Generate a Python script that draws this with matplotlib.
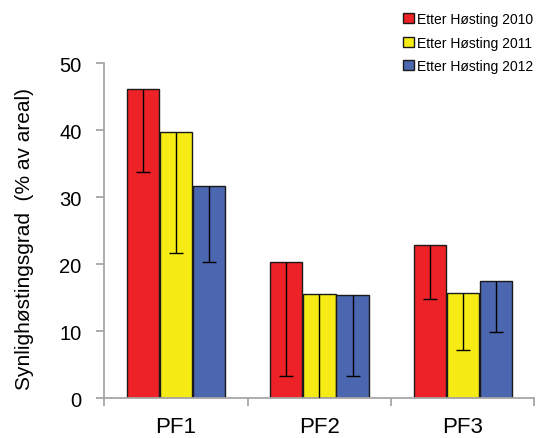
import numpy as np
import matplotlib
matplotlib.use('Agg')
import matplotlib.pyplot as plt
from matplotlib.ticker import FixedLocator

# data
sites = ['PF1', 'PF2', 'PF3']
years = ['Etter Høsting 2010', 'Etter Høsting 2011', 'Etter Høsting 2012']
colors = ['#ED2226', '#F6EB14', '#4A67AF']
values = [
    [46.1, 20.4, 22.9],   # 2010
    [39.7, 15.6, 15.7],   # 2011
    [31.6, 15.4, 17.5],   # 2012
]
# only the lower half of the error bars is drawn in the figure
err_low = [
    [12.3, 17.0, 8.1],
    [18.0, 16.5, 8.5],
    [11.3, 12.1, 7.6],
]

plt.rcParams['font.family'] = ['Liberation Sans', 'DejaVu Sans']

fig = plt.figure(figsize=(5.36, 4.39), dpi=100)
ax = fig.add_axes([0.1946, 0.0904, 0.8026, 0.7638])

x = np.arange(len(sites))
width = 0.225
step = 0.231
grey = '#A6A6A6'

for i, (yr, col) in enumerate(zip(years, colors)):
    pos = x + (i - 1) * step
    ax.bar(pos, values[i], width, color=col, edgecolor='#1a1a1a', linewidth=1.0,
           label=yr, zorder=2)
    eb = ax.errorbar(pos, values[i], yerr=[err_low[i], np.zeros(len(sites))],
                     fmt='none', ecolor='black', elinewidth=1.0, capsize=5,
                     capthick=1.0, zorder=3)
    # hide the upper cap (sits on top of the bar)
    if len(eb[1]) > 1:
        eb[1][1].set_visible(False)

ax.set_xlim(-0.5, 2.5)
ax.set_ylim(0, 50)
ax.set_yticks([0, 10, 20, 30, 40, 50])

ax.xaxis.set_major_locator(FixedLocator(x))
ax.set_xticklabels(sites, family=['Liberation Sans Narrow', 'Liberation Sans'], fontsize=16)
ax.xaxis.set_minor_locator(FixedLocator([-0.5, 0.5, 1.5, 2.5]))
ax.tick_params(axis='x', which='major', length=0, pad=13)
ax.tick_params(axis='x', which='minor', length=6, width=1.3, color=grey, direction='out')
ax.tick_params(axis='y', length=5.5, width=1.3, color=grey, direction='out',
               labelsize=14.5, pad=11)

for side in ['top', 'right']:
    ax.spines[side].set_visible(False)
for side in ['left', 'bottom']:
    ax.spines[side].set_color(grey)
    ax.spines[side].set_linewidth(1.3)

ax.set_ylabel('Synlighøstingsgrad  (% av areal)', fontsize=15)
ax.yaxis.set_label_coords(-0.163, 0.478)

fig.legend(loc='upper left', bbox_to_anchor=(0.752, 0.970), frameon=False,
           fontsize=10, handlelength=0.8, handleheight=0.72, handletextpad=0.2,
           labelspacing=0.68, borderpad=0, borderaxespad=0)

fig.savefig('out.png', dpi=100)
